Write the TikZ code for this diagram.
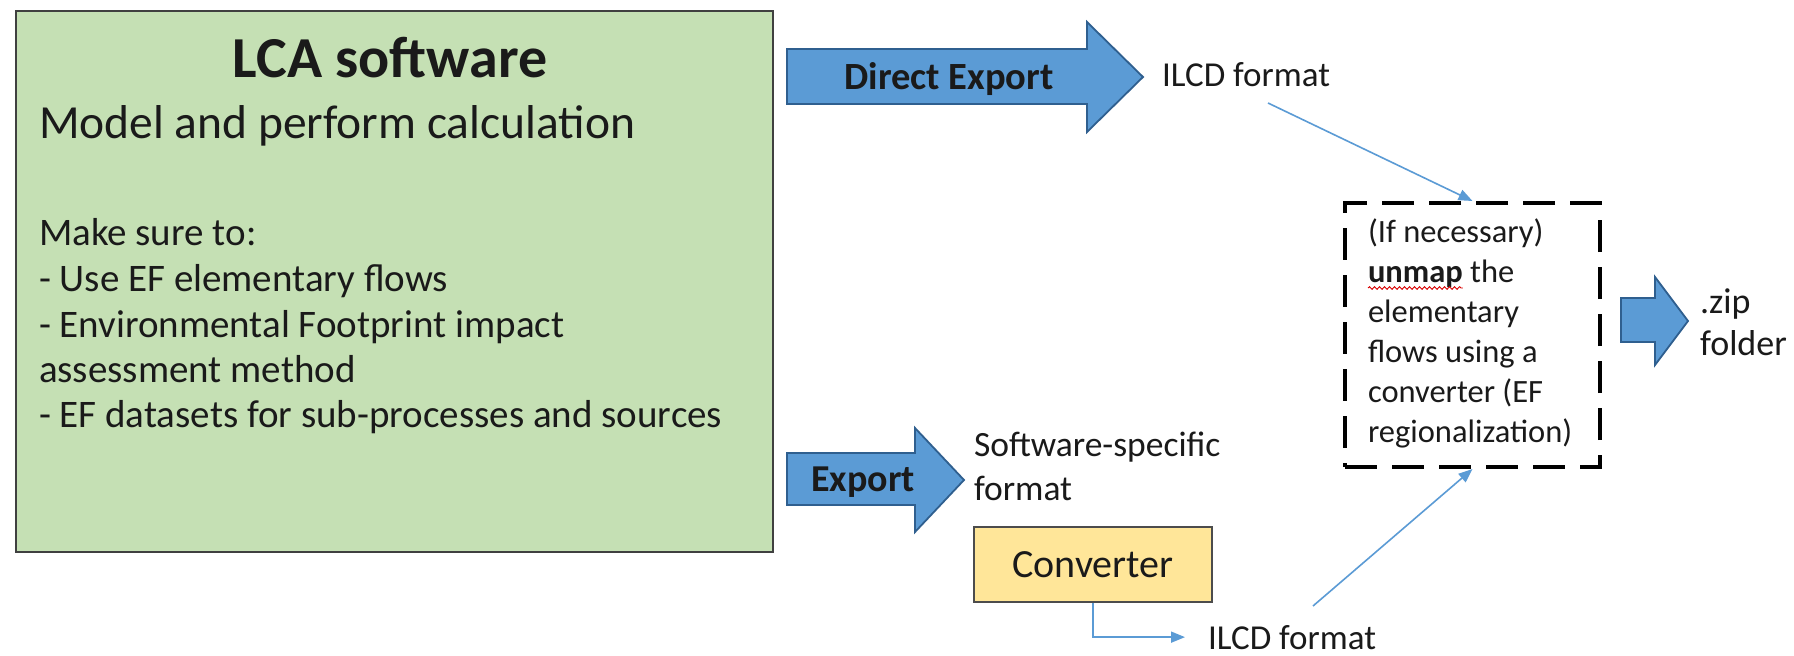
\documentclass[tikz,border=0pt]{standalone}
\usepackage{fontspec}
\setmainfont{Carlito}
\usetikzlibrary{arrows.meta,decorations.pathmorphing}
\definecolor{lcagreen}{HTML}{C5E0B4}
\definecolor{arrowblue}{HTML}{5B9BD5}
\definecolor{arrowedge}{HTML}{2F5F8F}
\definecolor{convfill}{HTML}{FFE699}
\definecolor{inkc}{HTML}{1A1A1A}
\newcommand\fsz[1]{\fontsize{#1}{#1}\selectfont}
\begin{document}
\begin{tikzpicture}[x=1pt,y=-1pt,
  txt/.style={inner sep=0pt,outer sep=0pt,text=inkc},
  greenbox/.style={draw=black!75,line width=1.6pt,fill=lcagreen,inner sep=0pt},
  blockarrow/.style={draw=arrowedge,line width=1.8pt,fill=arrowblue,line join=miter},
  convbox/.style={draw=black!70,line width=1.6pt,fill=convfill,inner sep=0pt,text=inkc},
  dashbox/.style={draw=black,line width=4pt,dash pattern=on 32pt off 15pt,inner sep=0pt},
  flow/.style={draw=arrowblue,line width=1.6pt,-{Triangle[length=14pt,width=11pt]}},
  wavy/.style={draw=red!85!black,line width=0.9pt,decorate,decoration={snake,amplitude=1.3pt,segment length=5pt}}
]
\fill[white] (0,0) rectangle (1794,656);
\useasboundingbox (0,0) rectangle (1794,656);

% LCA software box
\node[greenbox,minimum width=757pt,minimum height=541pt] (lca) at (394.5,281.5) {};
\node[txt,anchor=base,font={\bfseries\fsz{58}}] (title) at (390,77) {LCA software};
\node[txt,anchor=base west,font=\fsz{47.5}] (model) at (39,138) {Model and perform calculation};
\node[txt,anchor=base west,font=\fsz{39}] (m1) at (39,245) {Make sure to:};
\node[txt,anchor=base west,font=\fsz{39}] (m2) at (39,291) {- Use EF elementary flows};
\node[txt,anchor=base west,font=\fsz{39}] (m3) at (39,337) {- Environmental Footprint impact};
\node[txt,anchor=base west,font=\fsz{39}] (m4) at (39,382) {assessment method};
\node[txt,anchor=base west,font=\fsz{39}] (m5) at (39,427) {- EF datasets for sub-processes and sources};

% Direct export
\draw[blockarrow] (787,49) -- (1087,49) -- (1087,22) -- (1143,77) -- (1087,132) -- (1087,104) -- (787,104) -- cycle;
\node[txt,anchor=base,font={\bfseries\fsz{38.5}}] (dexp) at (949,89) {Direct Export};
\node[txt,anchor=base west,font=\fsz{35}] (ilcd1) at (1162,86) {ILCD format};

% Export
\draw[blockarrow] (787,453) -- (915,453) -- (915,428) -- (964,480) -- (915,532) -- (915,505) -- (787,505) -- cycle;
\node[txt,anchor=base,font={\bfseries\fsz{38}}] (exp) at (863,491) {Export};
\node[txt,anchor=base west,font=\fsz{35.5}] (ssf) at (974,456) {Software-specific};
\node[txt,anchor=base west,font=\fsz{35.5}] (ssf2) at (974,500) {format};

% Converter
\node[convbox,minimum width=238pt,minimum height=75pt,font=\fsz{40}] (conv) at (1093,564.5) {Converter};
\node[txt,anchor=base west,font=\fsz{35}] (ilcd2) at (1208,649) {ILCD format};

% Unmap box
\node[dashbox,minimum width=255pt,minimum height=264pt] (unmap) at (1472.5,335) {};
\node[txt,anchor=base west,font=\fsz{32.5}] (u1) at (1368,242) {(If necessary)};
\node[txt,anchor=base west,font={\bfseries\fsz{32.5}}] (u2a) at (1368,282) {unmap};
\node[txt,anchor=base west,font=\fsz{32.5}] (u2b) at (u2a.base east) {\ the};
\node[txt,anchor=base west,font=\fsz{32.5}] (u3) at (1368,322) {elementary};
\node[txt,anchor=base west,font=\fsz{32.5}] (u4) at (1368,362) {flows using a};
\node[txt,anchor=base west,font=\fsz{32.5}] (u5) at (1368,402) {converter (EF};
\node[txt,anchor=base west,font=\fsz{32.5}] (u6) at (1368,442) {regionalization)};
\draw[wavy] ([yshift=-6pt]u2a.base west) -- ([yshift=-6pt]u2a.base east);

% zip
\draw[blockarrow] (1621,298) -- (1655,298) -- (1655,277) -- (1688,321) -- (1655,365) -- (1655,342) -- (1621,342) -- cycle;
\node[txt,anchor=base west,font=\fsz{36}] (zip1) at (1700,313) {.zip};
\node[txt,anchor=base west,font=\fsz{36}] (zip2) at (1700,355) {folder};

% thin connectors
\coordinate (s1) at (1268,103);
\coordinate (s2) at (1313,606);
\draw[flow] (s1) -- (unmap.north);
\draw[flow] (s2) -- (unmap.south);
\draw[flow] (conv.south) |- ([xshift=-23pt]ilcd2.west);
\end{tikzpicture}
\end{document}
